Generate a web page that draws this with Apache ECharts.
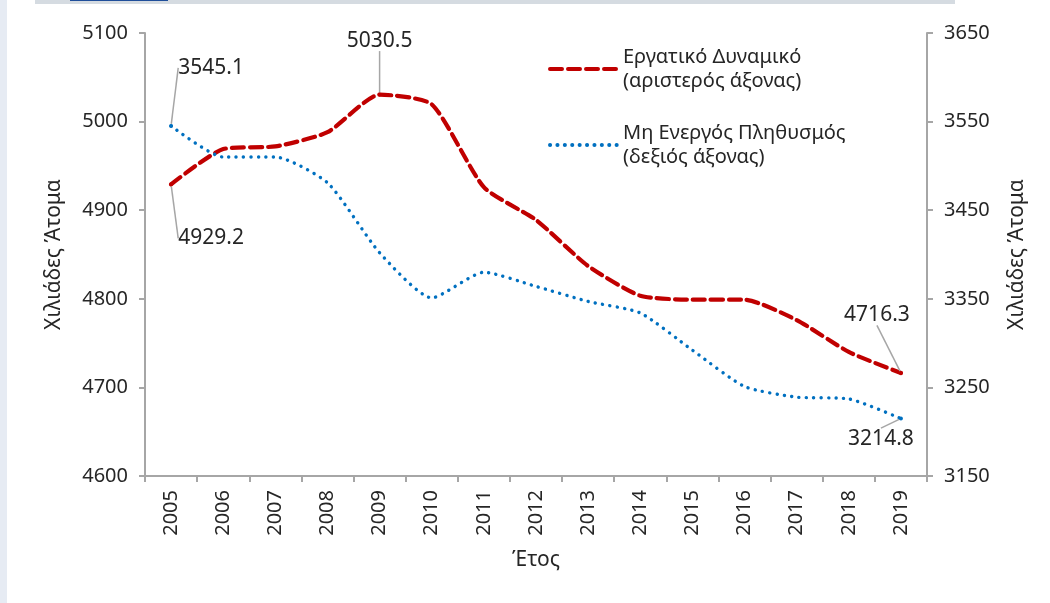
<!DOCTYPE html>
<html>
<head>
<meta charset="utf-8">
<script src="https://cdn.jsdelivr.net/npm/echarts@6/dist/echarts.min.js"></script>
<style>
    html, body { margin: 0; padding: 0; background: #fff; }
    .container { position: relative; width: 1050px; height: 603px; overflow: hidden; }
    .chart { width: 1050px; height: 603px; }
    .edge-left { position: absolute; left: 0; top: 0; width: 7px; height: 603px; background: #e6ebf3; }
    .edge-top { position: absolute; left: 35px; top: 0; width: 920px; height: 4px; background: #d5dbe1; }
    .edge-link { position: absolute; left: 70px; top: 0; width: 98px; height: 1px; background: #1f4e9a; }
</style>
</head>
<body>
<div class="container">
    <div class="chart" id="chart"></div>
    <div class="edge-left"></div>
    <div class="edge-top"></div>
    <div class="edge-link"></div>
</div>
<script>
const years = ['2005', '2006', '2007', '2008', '2009', '2010', '2011', '2012', '2013', '2014', '2015', '2016', '2017', '2018', '2019'];
const laborForce = [4929.2, 4969, 4972, 4988, 5030.5, 5019.5, 4926, 4889, 4837, 4803.5, 4799, 4799, 4776, 4740, 4716.3];
const inactive = [3545.1, 3510, 3510, 3481, 3402, 3351, 3380, 3364, 3347, 3334, 3292, 3251, 3239, 3237, 3214.8];
const leftTicks = [4600, 4700, 4800, 4900, 5000, 5100];
const rightTicks = [3150, 3250, 3350, 3450, 3550, 3650];
const seriesNames = ['Εργατικό Δυναμικό\n(αριστερός άξονας)', 'Μη Ενεργός Πληθυσμός\n(δεξιός άξονας)'];

// which points carry a value label, and where the label goes
const labelled = {
    0: { 0: [40, 54], 4: [0, -54], 14: [-24, -58] },
    1: { 0: [40, -58], 14: [-20, 20] }
};

const font = 'Noto Sans';
const textColor = '#262626';
const axisGray = '#a6a6a6';

function withLabels(values, seriesIndex, color) {
    return values.map((v, i) => {
        if (labelled[seriesIndex][i] === undefined) {
            return { value: v, symbolSize: 0 };
        }
        return {
            value: v,
            symbolSize: 4,
            itemStyle: { color: color },
            label: {
                show: true,
                position: 'inside',
                formatter: String(v),
                fontFamily: font,
                fontSize: 21,
                color: textColor
            }
        };
    });
}

const chart = echarts.init(document.getElementById('chart'));
const option = {
    animation: false,
    textStyle: { fontFamily: font },
    grid: {
        left: 145,
        right: 123,
        top: 33,
        bottom: 127
    },
    legend: {
        orient: 'vertical',
        left: 543,
        top: 40,
        itemWidth: 68,
        itemHeight: 12,
        itemGap: 28,
        itemStyle: { opacity: 0 },
        lineStyle: { width: 4 },
        textStyle: {
            fontFamily: font,
            fontSize: 20,
            color: textColor,
            lineHeight: 24
        },
        data: seriesNames
    },
    xAxis: {
        type: 'category',
        data: years,
        boundaryGap: true,
        name: 'Έτος',
        nameLocation: 'middle',
        nameGap: 74,
        nameTextStyle: { fontSize: 21, color: textColor, fontFamily: font },
        axisLine: { lineStyle: { color: axisGray, width: 2 } },
        axisTick: { show: true, length: 6, lineStyle: { color: axisGray, width: 2 } },
        axisLabel: {
            rotate: 90,
            margin: 14,
            fontSize: 20,
            color: textColor,
            fontFamily: font
        }
    },
    yAxis: [
        {
            type: 'value',
            min: leftTicks[0],
            max: leftTicks[leftTicks.length - 1],
            interval: 100,
            name: 'Χιλιάδες Άτομα',
            nameLocation: 'middle',
            nameGap: 80,
            nameTextStyle: { fontSize: 21, color: textColor, fontFamily: font },
            axisLine: { show: true, lineStyle: { color: axisGray, width: 2 } },
            axisTick: { show: true, length: 6, lineStyle: { color: axisGray, width: 2 } },
            axisLabel: { margin: 17, fontSize: 20, color: textColor, fontFamily: font, formatter: (v) => String(v) },
            splitLine: { show: false }
        },
        {
            type: 'value',
            position: 'right',
            min: rightTicks[0],
            max: rightTicks[rightTicks.length - 1],
            alignTicks: true,
            name: 'Χιλιάδες Άτομα',
            nameLocation: 'middle',
            nameGap: 80,
            nameRotate: 90,
            nameTextStyle: { fontSize: 21, color: textColor, fontFamily: font },
            axisLine: { show: true, lineStyle: { color: axisGray, width: 2 } },
            axisTick: { show: true, length: 6, lineStyle: { color: axisGray, width: 2 } },
            axisLabel: { margin: 17, fontSize: 20, color: textColor, fontFamily: font, formatter: (v) => String(v) },
            splitLine: { show: false }
        }
    ],
    series: [
        {
            name: seriesNames[0],
            type: 'line',
            yAxisIndex: 0,
            smooth: 0.2,
            symbol: 'circle',
            showSymbol: true,
            itemStyle: { color: '#c00000' },
            lineStyle: {
                color: '#c00000',
                width: 4.2,
                type: [12, 6],
                cap: 'round'
            },
            labelLine: {
                show: true,
                lineStyle: { color: axisGray, width: 1.5 }
            },
            labelLayout: (params) => {
                const off = labelled[0][params.dataIndex];
                return off ? { dx: off[0], dy: off[1] } : {};
            },
            data: withLabels(laborForce, 0, '#c00000')
        },
        {
            name: seriesNames[1],
            type: 'line',
            yAxisIndex: 1,
            smooth: 0.2,
            symbol: 'circle',
            showSymbol: true,
            itemStyle: { color: '#0070c0' },
            lineStyle: {
                color: '#0070c0',
                width: 3.4,
                type: [0.1, 7.3],
                cap: 'round'
            },
            labelLine: {
                show: true,
                lineStyle: { color: axisGray, width: 1.5 }
            },
            labelLayout: (params) => {
                const off = labelled[1][params.dataIndex];
                return off ? { dx: off[0], dy: off[1] } : {};
            },
            data: withLabels(inactive, 1, '#0070c0')
        }
    ]
};
chart.setOption(option);
</script>
</body>
</html>
